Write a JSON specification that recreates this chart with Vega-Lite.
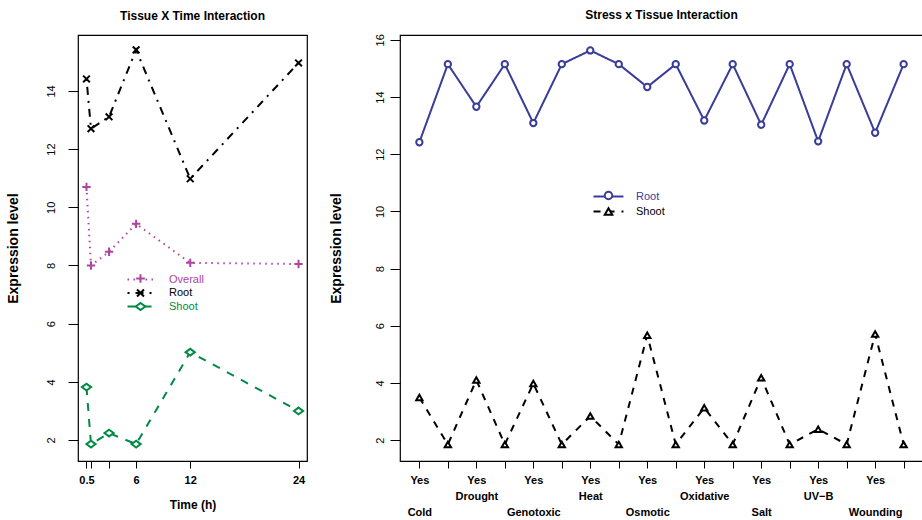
{
  "$schema": "https://vega.github.io/schema/vega-lite/v6.json",
  "padding": {"left": 5, "top": 8, "right": 0, "bottom": 0},
  "background": "white",
  "config": {
    "font": "Liberation Sans",
    "view": {"stroke": "black", "strokeWidth": 1.2},
    "axis": {"grid": false, "domain": false, "tickColor": "black", "tickWidth": 1, "labelColor": "black", "titleColor": "black", "labelFont": "Liberation Sans", "titleFont": "Liberation Sans"},
    "concat": {"spacing": 20}
  },
  "datasets": {
    "time": [
      {"time": 0.5, "series": "Overall", "value": 10.70},
      {"time": 1, "series": "Overall", "value": 8.00},
      {"time": 3, "series": "Overall", "value": 8.47},
      {"time": 6, "series": "Overall", "value": 9.43},
      {"time": 12, "series": "Overall", "value": 8.09},
      {"time": 24, "series": "Overall", "value": 8.05},
      {"time": 0.5, "series": "Root", "value": 14.41},
      {"time": 1, "series": "Root", "value": 12.70},
      {"time": 3, "series": "Root", "value": 13.11},
      {"time": 6, "series": "Root", "value": 15.41},
      {"time": 12, "series": "Root", "value": 10.98},
      {"time": 24, "series": "Root", "value": 14.96},
      {"time": 0.5, "series": "Shoot", "value": 3.82},
      {"time": 1, "series": "Shoot", "value": 1.86},
      {"time": 3, "series": "Shoot", "value": 2.24},
      {"time": 6, "series": "Shoot", "value": 1.86},
      {"time": 12, "series": "Shoot", "value": 5.02},
      {"time": 24, "series": "Shoot", "value": 3.00}
    ],
    "stress": [
      {"pos": 1, "stress": "Cold", "treat": "Yes", "tissue": "Root", "value": 12.42},
      {"pos": 2, "stress": "Cold", "treat": "No", "tissue": "Root", "value": 15.15},
      {"pos": 3, "stress": "Drought", "treat": "Yes", "tissue": "Root", "value": 13.66},
      {"pos": 4, "stress": "Drought", "treat": "No", "tissue": "Root", "value": 15.15},
      {"pos": 5, "stress": "Genotoxic", "treat": "Yes", "tissue": "Root", "value": 13.09},
      {"pos": 6, "stress": "Genotoxic", "treat": "No", "tissue": "Root", "value": 15.15},
      {"pos": 7, "stress": "Heat", "treat": "Yes", "tissue": "Root", "value": 15.63},
      {"pos": 8, "stress": "Heat", "treat": "No", "tissue": "Root", "value": 15.15},
      {"pos": 9, "stress": "Osmotic", "treat": "Yes", "tissue": "Root", "value": 14.35},
      {"pos": 10, "stress": "Osmotic", "treat": "No", "tissue": "Root", "value": 15.15},
      {"pos": 11, "stress": "Oxidative", "treat": "Yes", "tissue": "Root", "value": 13.18},
      {"pos": 12, "stress": "Oxidative", "treat": "No", "tissue": "Root", "value": 15.15},
      {"pos": 13, "stress": "Salt", "treat": "Yes", "tissue": "Root", "value": 13.03},
      {"pos": 14, "stress": "Salt", "treat": "No", "tissue": "Root", "value": 15.15},
      {"pos": 15, "stress": "UV-B", "treat": "Yes", "tissue": "Root", "value": 12.45},
      {"pos": 16, "stress": "UV-B", "treat": "No", "tissue": "Root", "value": 15.15},
      {"pos": 17, "stress": "Wounding", "treat": "Yes", "tissue": "Root", "value": 12.75},
      {"pos": 18, "stress": "Wounding", "treat": "No", "tissue": "Root", "value": 15.15},
      {"pos": 1, "stress": "Cold", "treat": "Yes", "tissue": "Shoot", "value": 3.49},
      {"pos": 2, "stress": "Cold", "treat": "No", "tissue": "Shoot", "value": 1.85},
      {"pos": 3, "stress": "Drought", "treat": "Yes", "tissue": "Shoot", "value": 4.10},
      {"pos": 4, "stress": "Drought", "treat": "No", "tissue": "Shoot", "value": 1.85},
      {"pos": 5, "stress": "Genotoxic", "treat": "Yes", "tissue": "Shoot", "value": 3.98},
      {"pos": 6, "stress": "Genotoxic", "treat": "No", "tissue": "Shoot", "value": 1.85},
      {"pos": 7, "stress": "Heat", "treat": "Yes", "tissue": "Shoot", "value": 2.84},
      {"pos": 8, "stress": "Heat", "treat": "No", "tissue": "Shoot", "value": 1.85},
      {"pos": 9, "stress": "Osmotic", "treat": "Yes", "tissue": "Shoot", "value": 5.67},
      {"pos": 10, "stress": "Osmotic", "treat": "No", "tissue": "Shoot", "value": 1.85},
      {"pos": 11, "stress": "Oxidative", "treat": "Yes", "tissue": "Shoot", "value": 3.13},
      {"pos": 12, "stress": "Oxidative", "treat": "No", "tissue": "Shoot", "value": 1.85},
      {"pos": 13, "stress": "Salt", "treat": "Yes", "tissue": "Shoot", "value": 4.18},
      {"pos": 14, "stress": "Salt", "treat": "No", "tissue": "Shoot", "value": 1.85},
      {"pos": 15, "stress": "UV-B", "treat": "Yes", "tissue": "Shoot", "value": 2.38},
      {"pos": 16, "stress": "UV-B", "treat": "No", "tissue": "Shoot", "value": 1.85},
      {"pos": 17, "stress": "Wounding", "treat": "Yes", "tissue": "Shoot", "value": 5.71},
      {"pos": 18, "stress": "Wounding", "treat": "No", "tissue": "Shoot", "value": 1.85}
    ]
  },
  "hconcat": [
    {
      "width": 229,
      "height": 426,
      "data": {"name": "time"},
      "title": {"text": "Tissue X Time Interaction", "font": "Liberation Sans", "fontSize": 12, "fontWeight": "bold", "offset": 12, "color": "black"},
      "encoding": {
        "x": {
          "field": "time", "type": "quantitative",
          "scale": {"domain": [-0.44, 24.94], "nice": false, "zero": false},
          "axis": {"values": [0.5, 1, 3, 6, 12, 24], "labelExpr": "datum.value == 1 || datum.value == 3 ? '' : (datum.value == 0.5 ? '0.5' : datum.label)", "title": "Time (h)", "tickSize": 7, "labelPadding": 6, "labelFontSize": 11, "labelFontWeight": "bold", "titleFontSize": 12, "titleFontWeight": "bold", "titlePadding": 14, "labelFlush": false, "labelOverlap": false}
        },
        "y": {
          "field": "value", "type": "quantitative",
          "scale": {"domain": [1.28, 15.92], "nice": false, "zero": false},
          "axis": {"values": [2, 4, 6, 8, 10, 12, 14], "title": "Expression level", "labelAngle": -90, "labelAlign": "center", "labelBaseline": "bottom", "tickSize": 10, "labelPadding": 12, "labelFontSize": 11, "titleFontSize": 14, "titleFontWeight": "bold", "titlePadding": 25}
        }
      },
      "layer": [
        {
          "mark": {"type": "line", "strokeWidth": 2},
          "encoding": {
            "color": {
              "field": "series", "type": "nominal",
              "scale": {"domain": ["Overall", "Root", "Shoot"], "range": ["#b0449f", "#000000", "#008b45"]},
              "legend": {"orient": "none", "legendX": 57, "legendY": 239, "title": null, "symbolType": "M-3,0H3", "symbolSize": 75, "symbolStrokeWidth": 2, "labelFontSize": 11, "labelOffset": 23, "padding": 0, "rowPadding": 1.5, "labelColor": {"expr": "datum.value == 'Overall' ? '#b0449f' : (datum.value == 'Shoot' ? '#008b45' : 'black')"}}
            },
            "strokeDash": {
              "field": "series", "type": "nominal",
              "scale": {"domain": ["Overall", "Root", "Shoot"], "range": [[1.5, 4.5], [2, 6, 8, 6], [8, 8]]},
              "legend": {"orient": "none", "legendX": 57, "legendY": 239, "title": null, "symbolType": "M-3,0H3", "symbolSize": 75, "symbolStrokeWidth": 2, "labelFontSize": 11, "labelOffset": 23, "padding": 0, "rowPadding": 1.5, "labelColor": {"expr": "datum.value == 'Overall' ? '#b0449f' : (datum.value == 'Shoot' ? '#008b45' : 'black')"}}
            }
          }
        },
        {
          "mark": {"type": "point", "filled": false, "fill": "white", "size": 70, "strokeWidth": 2, "opacity": 1},
          "encoding": {
            "stroke": {
              "field": "series", "type": "nominal",
              "scale": {"range": ["#b0449f", "#000000", "#008b45"]},
              "legend": {"orient": "none", "legendX": 57, "legendY": 238, "title": null, "symbolSize": 75, "symbolStrokeWidth": 2, "symbolFillColor": "white", "labelFontSize": 11, "labelOffset": 23, "padding": 0, "rowPadding": -1.5, "labelOpacity": 0, "labelExpr": "' '"}
            },
            "shape": {
              "field": "series", "type": "nominal",
              "scale": {"range": ["M-1,0H1M0,-1V1", "M-0.8,-0.8L0.8,0.8M-0.8,0.8L0.8,-0.8", "M-1.1,0L0,-0.8L1.1,0L0,0.8Z"]},
              "legend": {"orient": "none", "legendX": 57, "legendY": 238, "title": null, "symbolSize": 75, "symbolStrokeWidth": 2, "symbolFillColor": "white", "labelFontSize": 11, "labelOffset": 23, "padding": 0, "rowPadding": -1.5, "labelOpacity": 0, "labelExpr": "' '"}
            }
          }
        }
      ]
    },
    {
      "width": 523,
      "height": 426,
      "data": {"name": "stress"},
      "title": {"text": "Stress x Tissue Interaction", "font": "Liberation Sans", "fontSize": 12, "fontWeight": "bold", "offset": 12, "color": "black"},
      "encoding": {
        "x": {
          "field": "pos", "type": "quantitative",
          "scale": {"domain": [0.32, 18.68], "nice": false, "zero": false},
          "axis": {"values": [1, 2, 3, 4, 5, 6, 7, 8, 9, 10, 11, 12, 13, 14, 15, 16, 17, 18], "labelExpr": "datum.value % 2 == 1 ? (floor((datum.value - 1) / 2) % 2 == 0 ? ['Yes', '\u200b', ['Cold', 'Drought', 'Genotoxic', 'Heat', 'Osmotic', 'Oxidative', 'Salt', 'UV−B', 'Wounding'][floor((datum.value - 1) / 2)]] : ['Yes', ['Cold', 'Drought', 'Genotoxic', 'Heat', 'Osmotic', 'Oxidative', 'Salt', 'UV−B', 'Wounding'][floor((datum.value - 1) / 2)]]) : ''", "title": null, "tickSize": 7, "labelPadding": 6, "labelFontSize": 11, "labelFontWeight": "bold", "labelLineHeight": 16, "labelBaseline": "top", "labelFlush": false, "labelOverlap": false}
        },
        "y": {
          "field": "value", "type": "quantitative",
          "scale": {"domain": [1.27, 16.17], "nice": false, "zero": false},
          "axis": {"values": [2, 4, 6, 8, 10, 12, 14, 16], "title": "Expression level", "labelAngle": -90, "labelAlign": "center", "labelBaseline": "bottom", "tickSize": 10, "labelPadding": 5, "labelFontSize": 11, "titleFontSize": 14, "titleFontWeight": "bold", "titlePadding": 31}
        }
      },
      "layer": [
        {
          "mark": {"type": "line", "strokeWidth": 2},
          "encoding": {
            "color": {
              "field": "tissue", "type": "nominal",
              "scale": {"domain": ["Root", "Shoot"], "range": ["#383c9a", "#000000"]},
              "legend": {"orient": "none", "legendX": 203, "legendY": 156, "title": null, "symbolType": "M-4,0H4", "symbolSize": 56, "symbolStrokeWidth": 2, "labelFontSize": 11, "labelOffset": 22, "padding": 0, "rowPadding": 3, "labelColor": {"expr": "datum.value == 'Root' ? '#383c9a' : 'black'"}}
            },
            "strokeDash": {
              "field": "tissue", "type": "nominal",
              "scale": {"domain": ["Root", "Shoot"], "range": [[1, 0], [7, 7]]},
              "legend": {"orient": "none", "legendX": 203, "legendY": 156, "title": null, "symbolType": "M-4,0H4", "symbolSize": 56, "symbolStrokeWidth": 2, "labelFontSize": 11, "labelOffset": 22, "padding": 0, "rowPadding": 3, "labelColor": {"expr": "datum.value == 'Root' ? '#383c9a' : 'black'"}}
            }
          }
        },
        {
          "mark": {"type": "point", "filled": false, "fill": "white", "size": 40, "strokeWidth": 2, "opacity": 1},
          "encoding": {
            "stroke": {
              "field": "tissue", "type": "nominal",
              "scale": {"range": ["#383c9a", "#000000"]},
              "legend": {"orient": "none", "legendX": 203, "legendY": 155, "title": null, "symbolSize": 56, "symbolStrokeWidth": 2, "symbolFillColor": "white", "labelFontSize": 11, "labelOffset": 22, "padding": 0, "rowPadding": 0, "labelOpacity": 0, "labelExpr": "' '"}
            },
            "shape": {
              "field": "tissue", "type": "nominal",
              "scale": {"range": ["circle", "triangle-up"]},
              "legend": {"orient": "none", "legendX": 203, "legendY": 155, "title": null, "symbolSize": 56, "symbolStrokeWidth": 2, "symbolFillColor": "white", "labelFontSize": 11, "labelOffset": 22, "padding": 0, "rowPadding": 0, "labelOpacity": 0, "labelExpr": "' '"}
            }
          }
        }
      ]
    }
  ],
  "resolve": {
    "scale": {"color": "independent", "stroke": "independent", "shape": "independent", "strokeDash": "independent"},
    "legend": {"color": "independent", "stroke": "independent", "shape": "independent", "strokeDash": "independent"}
  }
}
